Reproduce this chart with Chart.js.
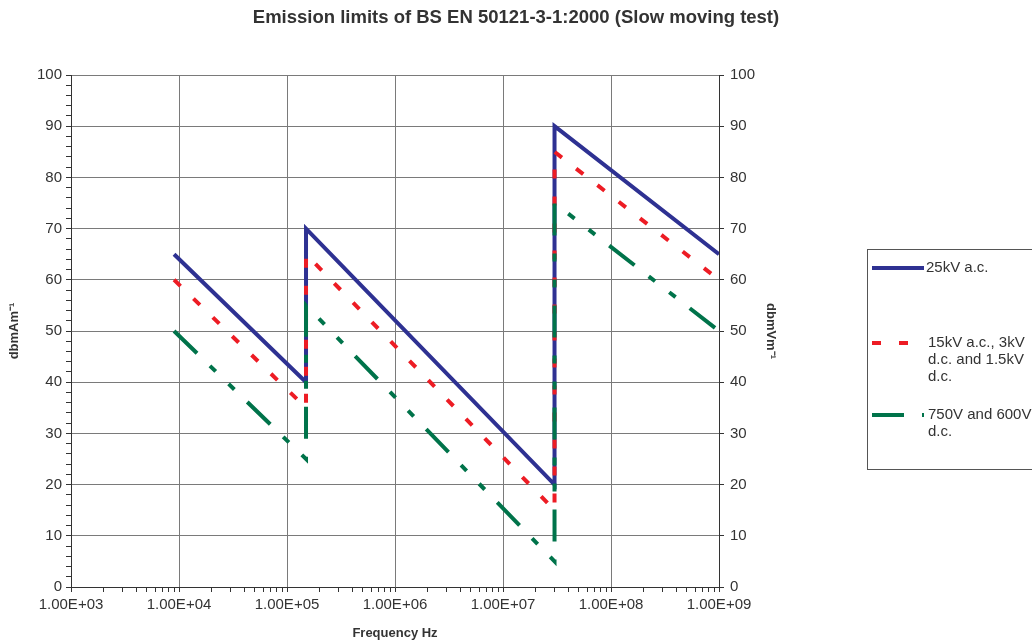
<!DOCTYPE html>
<html>
<head>
<meta charset="utf-8">
<script src="https://cdn.jsdelivr.net/npm/chart.js@4.4.1/dist/chart.umd.min.js"></script>
<style>
  html, body { margin: 0; padding: 0; background: #fff; }
  #wrap { width: 1032px; height: 644px; position: relative; }
</style>
</head>
<body>
<div id="wrap"><canvas id="chart"></canvas></div>
<script>
// Emission limits, slow moving test (frequency Hz -> dB)
const chartTitle = "Emission limits of BS EN 50121-3-1:2000 (Slow moving test)";
const seriesNames = ["25kV a.c.", "15kV a.c., 3kV d.c. and 1.5kV d.c.", "750V and 600V d.c."];
const legendLines = [["25kV a.c."], ["15kV a.c., 3kV", "d.c. and 1.5kV", "d.c."], ["750V and 600V", "d.c."]];

const freqs = [9e3, 1.5e5, 1.5e5, 3e7, 3e7, 1e9];
const limit25kV = [65, 40, 70, 20, 90, 65];
const limit15kV = [60, 35, 65, 15, 85, 60];
const limit750V = [50, 25, 55, 5, 75, 50];

const xTickLabels = ["1.00E+03", "1.00E+04", "1.00E+05", "1.00E+06", "1.00E+07", "1.00E+08", "1.00E+09"];
const yTickLabels = [0, 10, 20, 30, 40, 50, 60, 70, 80, 90, 100];

const COLORS = {
  blue: "#2e3192",
  red: "#ed1c24",
  green: "#00734a",
  text: "#333333",
  grid: "#7a7a7a",
  axis: "#333333",
};

const FONT = "'Liberation Sans', Arial, sans-serif";

function pts(ys) {
  return freqs.map((f, i) => ({ x: f, y: ys[i] }));
}

// log axis ticks: 1..9 x 10^n, labels only on decades
function xTicks() {
  const out = [];
  for (let e = 3; e < 9; e++) {
    for (let m = 1; m <= 9; m++) out.push({ value: m * Math.pow(10, e), major: false });
  }
  out.push({ value: 1e9, major: false });
  return out;
}

function isDecade(v) {
  const l = Math.log10(v);
  return Math.abs(l - Math.round(l)) < 1e-9;
}

// Title centred on the whole page + boxed legend on the right
const decorations = {
  id: "decorations",
  afterDraw(chart) {
    const ctx = chart.ctx;
    const ds = chart.data.datasets;
    ctx.save();
    ctx.fillStyle = COLORS.text;
    ctx.textAlign = "center";
    ctx.textBaseline = "middle";
    ctx.font = "bold 18.5px " + FONT;
    ctx.fillText(chartTitle, 516, 18);

    ctx.textAlign = "left";
    ctx.strokeStyle = "#555";
    ctx.lineWidth = 1;
    ctx.strokeRect(867.5, 249.5, 200, 220);
    const rowsY = [268, 343, 415];
    ctx.font = "15px " + FONT;
    ds.forEach((d, i) => {
      const y = rowsY[i];
      ctx.beginPath();
      ctx.strokeStyle = d.borderColor;
      ctx.lineWidth = 4;
      ctx.setLineDash(d.borderDash || []);
      ctx.moveTo(872, y);
      ctx.lineTo(924, y);
      ctx.stroke();
      ctx.setLineDash([]);
      legendLines[i].forEach((t, k) => {
        ctx.fillText(t, i === 0 ? 926 : 928, y + k * 17);
      });
    });
    ctx.restore();
  },
};

const ctx = document.getElementById("chart");
new Chart(ctx, {
  type: "scatter",
  data: {
    datasets: [
      {
        label: seriesNames[0],
        data: pts(limit25kV),
        showLine: true,
        borderColor: COLORS.blue,
        backgroundColor: COLORS.blue,
        borderWidth: 4,
        pointRadius: 0,
        order: 3,
      },
      {
        label: seriesNames[1],
        data: pts(limit15kV),
        showLine: true,
        borderColor: COLORS.red,
        backgroundColor: COLORS.red,
        borderWidth: 4,
        borderDash: [9, 18],
        pointRadius: 0,
        order: 2,
      },
      {
        label: seriesNames[2],
        data: pts(limit750V),
        showLine: true,
        borderColor: COLORS.green,
        backgroundColor: COLORS.green,
        borderWidth: 4,
        borderDash: [32, 18, 8, 18, 8, 18],
        pointRadius: 0,
        order: 1,
      },
    ],
  },
  options: {
    responsive: true,
    maintainAspectRatio: false,
    animation: false,
    layout: { padding: { left: 0, right: 247, top: 75, bottom: 0 } },
    plugins: {
      legend: { display: false },
      tooltip: { enabled: false },
      title: { display: false },
    },
    scales: {
      x: {
        type: "logarithmic",
        min: 1e3,
        max: 1e9,
        afterBuildTicks: (scale) => { scale.ticks = xTicks(); },
        afterFit: (scale) => { scale.height = 57; },
        ticks: {
          autoSkip: false,
          maxRotation: 0,
          color: COLORS.text,
          font: { family: FONT, size: 15 },
          padding: 4,
          callback: (v) => (isDecade(v) ? xTickLabels[Math.round(Math.log10(v)) - 3] : ""),
        },
        grid: {
          color: (c) => (c.tick && isDecade(c.tick.value) ? COLORS.grid : "rgba(0,0,0,0)"),
          tickColor: COLORS.axis,
          tickLength: 5,
        },
        border: { color: COLORS.axis, width: 1 },
        title: {
          display: true,
          text: "Frequency Hz",
          color: COLORS.text,
          font: { family: FONT, size: 13, weight: "bold" },
          padding: { top: 0, bottom: 3 },
        },
      },
      y: {
        position: "left",
        min: 0,
        max: 100,
        afterBuildTicks: (scale) => {
          const t = [];
          for (let v = 0; v <= 100; v += 2) t.push({ value: v });
          scale.ticks = t;
        },
        afterFit: (scale) => { scale.width = 71; },
        ticks: {
          autoSkip: false,
          color: COLORS.text,
          font: { family: FONT, size: 15 },
          padding: 4,
          callback: (v) => (yTickLabels.includes(v) ? String(v) : ""),
        },
        grid: {
          color: (c) => (c.tick && c.tick.value % 10 === 0 ? COLORS.grid : "rgba(0,0,0,0)"),
          tickColor: COLORS.axis,
          tickLength: 5,
        },
        border: { color: COLORS.axis, width: 1 },
        title: {
          display: true,
          text: "dbmAm⁻¹",
          color: COLORS.text,
          font: { family: FONT, size: 13, weight: "bold" },
          padding: { top: 7, bottom: 0 },
        },
      },
      y2: {
        position: "right",
        min: 0,
        max: 100,
        afterBuildTicks: (scale) => {
          scale.ticks = yTickLabels.map((v) => ({ value: v }));
        },
        afterFit: (scale) => { scale.width = 66; },
        ticks: {
          color: COLORS.text,
          font: { family: FONT, size: 15 },
          padding: 6,
          callback: (v) => String(v),
        },
        grid: { drawOnChartArea: false, tickColor: COLORS.axis, tickLength: 5 },
        border: { color: COLORS.axis, width: 1 },
        title: {
          display: true,
          text: "dbmVm⁻¹",
          color: COLORS.text,
          font: { family: FONT, size: 13, weight: "bold" },
          padding: { top: 7, bottom: 0 },
        },
      },
    },
  },
  plugins: [decorations],
});
</script>
</body>
</html>
